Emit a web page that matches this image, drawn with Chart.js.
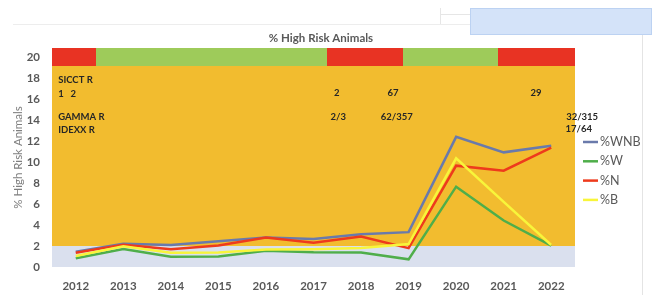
<!DOCTYPE html>
<html><head><meta charset="utf-8">
<script src="https://cdn.jsdelivr.net/npm/chart.js@4.4.1/dist/chart.umd.min.js"></script>
<style>
html,body{margin:0;padding:0;background:#fff;}
#wrap{position:relative;width:652px;height:295px;overflow:hidden;}
canvas{position:absolute;left:0;top:0;}
.deco{position:absolute;}
</style></head><body>
<div id="wrap">
<div class="deco" style="left:13px;top:24px;width:630px;height:1px;background:#ededed"></div>
<div class="deco" style="left:440px;top:8px;width:1px;height:16px;background:#e6e6e6"></div>
<div class="deco" style="left:440px;top:14px;width:30px;height:1px;background:#e6e6e6"></div>
<div class="deco" style="left:642px;top:24px;width:1px;height:271px;background:#e4e4e4"></div>
<div class="deco" style="left:470px;top:8px;width:182px;height:27px;background:#d4e3f9;border:1px solid #bcd2f2;box-sizing:border-box"></div>
<canvas id="c" width="652" height="295"></canvas>
</div>
<script>
// ---- data ----
const years = ['2012','2013','2014','2015','2016','2017','2018','2019','2020','2021','2022'];
const pctWNB = [1.46, 2.22, 2.10, 2.45, 2.80, 2.66, 3.12, 3.32, 12.40, 10.92, 11.55];
const pctW   = [0.83, 1.71, 0.98, 1.00, 1.55, 1.40, 1.38, 0.73, 7.65, 4.43, 2.03];
const pctN   = [1.36, 2.13, 1.68, 2.05, 2.82, 2.32, 2.90, 1.80, 9.65, 9.17, 11.38];
const pctB   = [1.05, 1.97, 1.36, 1.38, 1.66, 1.68, 1.80, 2.19, 10.35, 6.20, 2.10];
const seriesNames = ['%WNB','%W','%N','%B'];
const yTicks = [0,2,4,6,8,10,12,14,16,18,20];
const lowRiskLimit = 2;
const statusBarFrom = 19.14;
const statusBarTo = 20.86;
const statusStart = [2011.5, 2012.43, 2017.29, 2018.89, 2020.88];
const statusEnd   = [2012.43, 2017.29, 2018.89, 2020.88, 2022.5];
const statusCode  = ['R','G','R','G','R'];
const noteTexts = ['SICCT R','1   2','GAMMA R','IDEXX R','2','67','29','2/3','62/357','32/315','17/64'];

// ---- layout / style (not data) ----
const notePlace = [
  {x:2011.63,y:17.8,a:'left'},{x:2011.63,y:16.5,a:'left'},{x:2011.63,y:14.29,a:'left'},{x:2011.63,y:13.05,a:'left'},
  {x:2017.49,y:16.54,a:'center'},{x:2018.67,y:16.54,a:'center'},{x:2021.68,y:16.54,a:'center'},
  {x:2017.52,y:14.31,a:'center'},{x:2018.75,y:14.31,a:'center'},{x:2022.65,y:14.31,a:'center'},{x:2022.58,y:13.11,a:'center'}
];
const colors = ['#6a7aab','#4fae4a','#ee3a1c','#f8f53a'];
const statusColor = {R:'#e83323', G:'#9ecb5a'};
const FONT = 'Lato, "Open Sans", sans-serif';

const bgPlugin = {
  id:'bg',
  beforeDatasetsDraw(chart){
    const {ctx} = chart, xs = chart.scales.x, ys = chart.scales.y;
    const L = Math.round(xs.left), R = Math.round(xs.right);
    const y0 = Math.round(ys.getPixelForValue(0));
    const y2 = Math.round(ys.getPixelForValue(lowRiskLimit));
    const yb = Math.round(ys.getPixelForValue(statusBarFrom));
    const yt = Math.round(ys.getPixelForValue(statusBarTo));
    ctx.save();
    ctx.fillStyle = '#dae0ee'; ctx.fillRect(L, y2, R-L, y0-y2);
    ctx.fillStyle = '#f2bc2f'; ctx.fillRect(L, yb, R-L, y2-yb);
    for (let i=0;i<statusStart.length;i++){
      const a = Math.round(xs.getPixelForValue(statusStart[i]-2012));
      const b = Math.round(xs.getPixelForValue(statusEnd[i]-2012));
      ctx.fillStyle = statusColor[statusCode[i]];
      ctx.fillRect(a, yt, b-a, yb-yt);
    }
    ctx.restore();
  },
  afterDraw(chart){
    const {ctx} = chart, xs = chart.scales.x, ys = chart.scales.y;
    ctx.save();
    // title
    ctx.fillStyle = '#595959'; ctx.font = 'bold 11.5px '+FONT;
    ctx.textAlign = 'center'; ctx.textBaseline = 'middle';
    ctx.fillText('% High Risk Animals', 321, 38);
    // annotations
    ctx.fillStyle = '#262626'; ctx.font = 'bold 9.5px '+FONT;
    noteTexts.forEach((t,i)=>{
      const p = notePlace[i];
      ctx.textAlign = p.a;
      ctx.fillText(t, xs.getPixelForValue(p.x-2012), ys.getPixelForValue(p.y));
    });
    // legend
    ctx.font = '12.5px '+FONT; ctx.textAlign='left';
    chart.data.datasets.forEach((d,i)=>{
      const y = 142 + i*19.3;
      ctx.strokeStyle = d.borderColor; ctx.lineWidth = 2.5;
      ctx.beginPath(); ctx.moveTo(583,y); ctx.lineTo(598,y); ctx.stroke();
      ctx.fillStyle = '#595959';
      ctx.fillText(d.label, 600, y);
    });
    ctx.restore();
  }
};

const series = [pctWNB, pctW, pctN, pctB];
new Chart(document.getElementById('c'), {
  type:'line',
  data:{
    labels: years,
    datasets: series.map((s,i)=>({
      label: seriesNames[i], data: s, borderColor: colors[i], backgroundColor: colors[i],
      borderWidth: 2.5, pointRadius: 0, tension: 0, fill:false, order: 3-i
    }))
  },
  options:{
    responsive:false, animation:false,
    layout:{padding:{left:0, top:48, right:77, bottom:0}},
    plugins:{legend:{display:false}, title:{display:false}, tooltip:{enabled:false}},
    scales:{
      x:{ offset:true, grid:{display:false, drawTicks:false}, border:{display:false},
          ticks:{padding:12, color:'#595959', font:{family:FONT, size:11.5, weight:'bold'}, maxRotation:0, autoSkip:false},
          afterFit(s){ s.height = 28; } },
      y:{ min:0, max:statusBarTo, grid:{display:false, drawTicks:false}, border:{display:false},
          ticks:{padding:12, color:'#595959', font:{family:FONT, size:11.5, weight:'bold'}},
          afterBuildTicks(s){ s.ticks = yTicks.map(v=>({value:v})); },
          afterFit(s){ s.width = 52; },
          title:{display:true, text:'% High Risk Animals', color:'#7f7f7f', font:{family:FONT, size:11.5}, padding:{top:11,bottom:0}} }
    }
  },
  plugins:[bgPlugin]
});
</script>
</body></html>
